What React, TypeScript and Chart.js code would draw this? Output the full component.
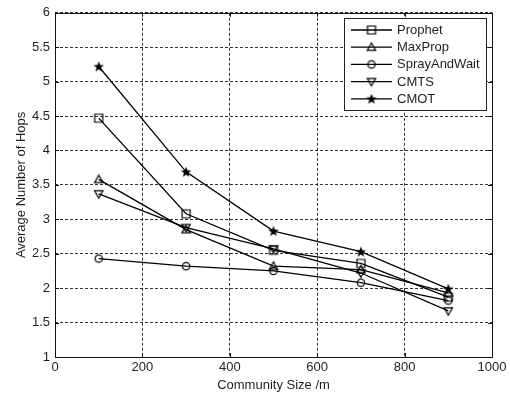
import React, { useEffect, useRef } from 'react';
import { Chart, registerables } from 'chart.js';

Chart.register(...registerables);

// ---- data ----
const communitySizes = [100, 300, 500, 700, 900];
const prophet = [4.47, 3.08, 2.55, 2.36, 1.87];
const maxProp = [3.58, 2.85, 2.32, 2.27, 1.93];
const sprayAndWait = [2.43, 2.32, 2.25, 2.08, 1.82];
const cmts = [3.37, 2.88, 2.57, 2.22, 1.67];
const cmot = [5.22, 3.69, 2.83, 2.53, 1.99];
const seriesNames = ['Prophet', 'MaxProp', 'SprayAndWait', 'CMTS', 'CMOT'];
const markerKinds = ['square', 'tri', 'circle', 'triDown', 'star'];
const xTickValues = [0, 200, 400, 600, 800, 1000];
const xTickLabels = ['0', '200', '400', '600', '800', '1000'];
const yTickValues = [1, 1.5, 2, 2.5, 3, 3.5, 4, 4.5, 5, 5.5, 6];
const yTickLabels = ['1', '1.5', '2', '2.5', '3', '3.5', '4', '4.5', '5', '5.5', '6'];
const xTitle = 'Community Size /m';
const yTitle = 'Average Number of Hops';

const FONT = '"Liberation Sans", Arial, sans-serif';
const TEXT = '#1f1f1f';

function makeMarker(kind: string): HTMLCanvasElement {
  const c = document.createElement('canvas');
  c.width = 12;
  c.height = 12;
  const ctx = c.getContext('2d')!;
  ctx.strokeStyle = '#000';
  ctx.fillStyle = '#000';
  ctx.lineWidth = 1.2;
  ctx.beginPath();
  if (kind === 'square') {
    ctx.rect(2, 2, 8, 8);
    ctx.stroke();
  } else if (kind === 'tri') {
    ctx.moveTo(6, 1.8);
    ctx.lineTo(10.2, 9.2);
    ctx.lineTo(1.8, 9.2);
    ctx.closePath();
    ctx.stroke();
  } else if (kind === 'triDown') {
    ctx.moveTo(6, 10.2);
    ctx.lineTo(10.2, 2.8);
    ctx.lineTo(1.8, 2.8);
    ctx.closePath();
    ctx.stroke();
  } else if (kind === 'circle') {
    ctx.arc(6, 6, 3.7, 0, Math.PI * 2);
    ctx.stroke();
  } else if (kind === 'star') {
    const R = 5.6;
    const r = 2.3;
    for (let i = 0; i < 10; i++) {
      const rad = i % 2 === 0 ? R : r;
      const a = -Math.PI / 2 + (i * Math.PI) / 5;
      const px = 6 + rad * Math.cos(a);
      const py = 6.4 + rad * Math.sin(a);
      if (i === 0) ctx.moveTo(px, py);
      else ctx.lineTo(px, py);
    }
    ctx.closePath();
    ctx.fill();
  }
  return c;
}

const framePlugin = {
  id: 'matlabFrame',
  afterDraw(chart: any) {
    const { ctx, chartArea } = chart;
    const { left, right, top, bottom } = chartArea;
    const xs = chart.scales.x;
    const ys = chart.scales.y;
    ctx.save();
    ctx.strokeStyle = '#111';
    ctx.lineWidth = 1;
    ctx.setLineDash([]);
    // inward ticks
    const tl = 4;
    ctx.beginPath();
    xTickValues.forEach((v) => {
      const px = Math.round(xs.getPixelForValue(v)) + 0.5;
      ctx.moveTo(px, bottom);
      ctx.lineTo(px, bottom - tl);
      ctx.moveTo(px, top);
      ctx.lineTo(px, top + tl);
    });
    yTickValues.forEach((v) => {
      const py = Math.round(ys.getPixelForValue(v)) + 0.5;
      ctx.moveTo(left, py);
      ctx.lineTo(left + tl, py);
      ctx.moveTo(right, py);
      ctx.lineTo(right - tl, py);
    });
    ctx.stroke();
    // frame
    ctx.strokeRect(Math.round(left) + 0.5, Math.round(top) + 0.5, Math.round(right - left), Math.round(bottom - top));

    // legend box
    const bx = 344.5, by = 18.5, bw = 142, bh = 92;
    ctx.fillStyle = '#fff';
    ctx.fillRect(bx, by, bw, bh);
    ctx.strokeStyle = '#222';
    ctx.strokeRect(bx, by, bw, bh);
    ctx.font = `13px ${FONT}`;
    ctx.textBaseline = 'middle';
    ctx.textAlign = 'left';
    chart.data.datasets.forEach((ds: any, i: number) => {
      const y = 30 + i * 17.2;
      ctx.strokeStyle = '#000';
      ctx.lineWidth = 1.3;
      ctx.beginPath();
      ctx.moveTo(351, y);
      ctx.lineTo(392, y);
      ctx.stroke();
      const img = ds.pointStyle as HTMLCanvasElement;
      ctx.drawImage(img, 371.5 - img.width / 2, y - img.height / 2);
      ctx.fillStyle = TEXT;
      ctx.fillText(ds.label, 397, y + 0.5);
    });
    ctx.restore();
  },
};

export default function App() {
  const ref = useRef<HTMLCanvasElement | null>(null);

  useEffect(() => {
    if (!ref.current) return;
    const series = [prophet, maxProp, sprayAndWait, cmts, cmot];
    const datasets = series.map((vals, i) => ({
      label: seriesNames[i],
      data: communitySizes.map((x, j) => ({ x, y: vals[j] })),
      borderColor: '#000',
      backgroundColor: '#000',
      borderWidth: 1.3,
      pointStyle: makeMarker(markerKinds[i]),
      pointRadius: 5,
      pointHoverRadius: 5,
      tension: 0,
      fill: false,
    }));

    const chart = new Chart(ref.current, {
      type: 'line',
      data: { datasets },
      options: {
        animation: false,
        responsive: false,
        events: [],
        layout: { padding: { left: 10, top: 12, right: 18, bottom: 0 } },
        plugins: {
          legend: { display: false },
          tooltip: { enabled: false },
        },
        scales: {
          x: {
            type: 'linear',
            min: 0,
            max: 1000,
            afterFit: (s: any) => {
              s.height = 37;
            },
            afterBuildTicks: (s: any) => {
              s.ticks = xTickValues.map((v) => ({ value: v }));
            },
            ticks: {
              padding: 3,
              color: TEXT,
              font: { family: FONT, size: 13 },
              maxRotation: 0,
              callback: (v: any) => {
                const i = xTickValues.indexOf(Number(v));
                return i >= 0 ? xTickLabels[i] : '';
              },
            },
            grid: {
              color: 'rgba(0,0,0,0.8)',
              lineWidth: 1,
              drawTicks: false,
            },
            border: { display: false, dash: [3, 2] },
            title: {
              display: true,
              text: xTitle,
              color: TEXT,
              font: { family: FONT, size: 13 },
              padding: { top: 0, bottom: 1 },
            },
          },
          y: {
            type: 'linear',
            min: 1,
            max: 6,
            afterFit: (s: any) => {
              s.width = 45;
            },
            afterBuildTicks: (s: any) => {
              s.ticks = yTickValues.map((v) => ({ value: v }));
            },
            ticks: {
              padding: 5,
              color: TEXT,
              font: { family: FONT, size: 13 },
              callback: (v: any) => {
                const i = yTickValues.indexOf(Number(v));
                return i >= 0 ? yTickLabels[i] : '';
              },
            },
            grid: {
              color: 'rgba(0,0,0,0.8)',
              lineWidth: 1,
              drawTicks: false,
            },
            border: { display: false, dash: [3, 2] },
            title: {
              display: true,
              text: yTitle,
              color: TEXT,
              font: { family: FONT, size: 13 },
              padding: { top: 4, bottom: 0 },
            },
          },
        },
      },
      plugins: [framePlugin],
    } as any);

    return () => chart.destroy();
  }, []);

  return (
    <div style={{ position: 'fixed', left: 0, top: 0, width: 510, height: 394, background: '#fff' }}>
      <canvas ref={ref} width={510} height={394} style={{ display: 'block' }} />
    </div>
  );
}
